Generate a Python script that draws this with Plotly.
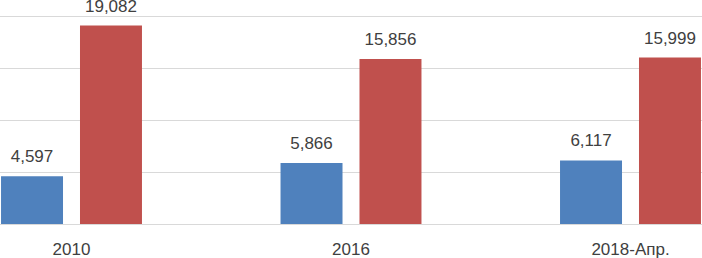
import plotly.graph_objects as go

categories = ["2010", "2016", "2018-Апр."]
series_a = [4597, 5866, 6117]
series_b = [19082, 15856, 15999]

label_font = dict(family="Liberation Sans, Arial, sans-serif", size=17, color="#404040")
colors = ["#4F81BD", "#C0504D"]

fig = go.Figure()
for i, (vals, col) in enumerate(zip([series_a, series_b], colors)):
    fig.add_trace(go.Bar(
        x=categories, y=vals, marker=dict(color=col, line=dict(width=0)),
        offsetgroup=str(i), hoverinfo="skip",
    ))
for i, vals in enumerate([series_a, series_b]):
    fig.add_trace(go.Scatter(
        x=categories, y=vals, mode="markers+text",
        marker=dict(size=14, opacity=0, color="white"),
        text=[f"{v:,}" for v in vals], textposition="top center",
        textfont=label_font, offsetgroup=str(i), cliponaxis=False,
        hoverinfo="skip",
    ))

fig.update_layout(
    width=702, height=258,
    margin=dict(l=0, r=0, t=0, b=34, autoexpand=False),
    paper_bgcolor="white", plot_bgcolor="white",
    barmode="group", bargap=0.435, bargroupgap=0.215,
    scattermode="group", scattergap=0.435,
    showlegend=False,
    font=label_font,
    xaxis=dict(range=[-0.2558, 2.2558], showgrid=False, showline=False,
               zeroline=False, ticks="", tickfont=label_font,
               automargin=False, ticklabelstandoff=13),
    yaxis=dict(range=[0, 21538], showticklabels=False, showgrid=True,
               gridcolor="#D9D9D9", gridwidth=1, dtick=5000,
               zeroline=True, zerolinecolor="#D9D9D9", zerolinewidth=1,
               showline=False, automargin=False),
)

fig.write_html("out.html", config={"displayModeBar": False, "staticPlot": True},
               post_script="document.body.style.margin='0';")
